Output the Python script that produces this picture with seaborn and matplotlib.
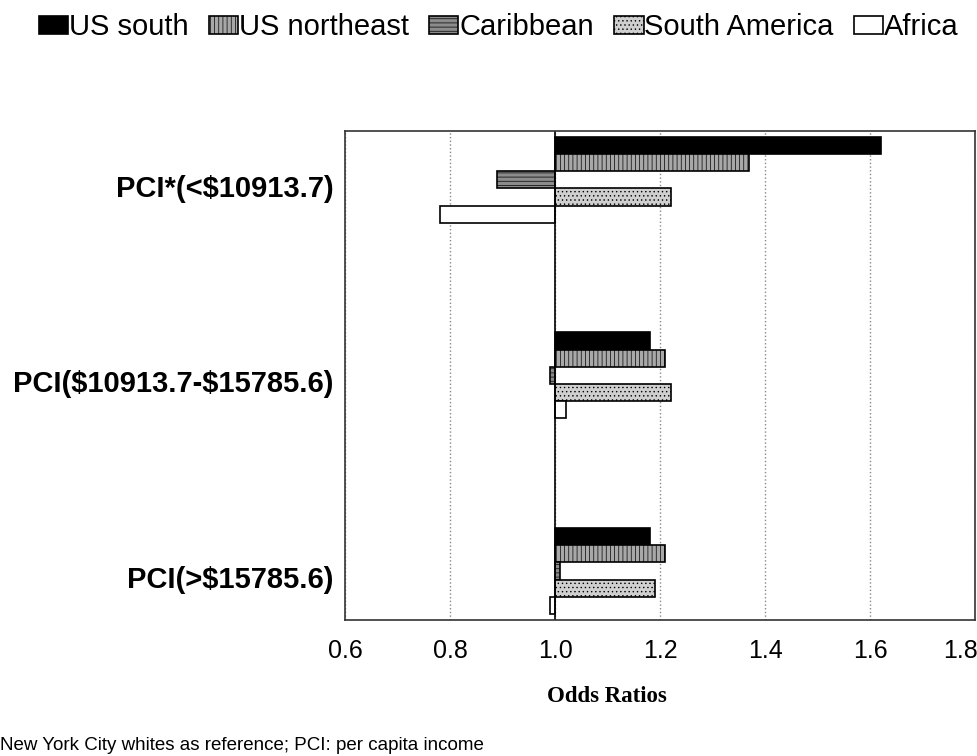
import pandas as pd
import matplotlib.pyplot as plt
import matplotlib.transforms as mtransforms
import seaborn as sns
from matplotlib.ticker import FuncFormatter, FixedLocator

# Odds ratios (reference = 1.0)
groups = ["PCI*(<$10913.7)", "PCI($10913.7-$15785.6)", "PCI(>$15785.6)"]
regions = ["US south", "US northeast", "Caribbean", "South America", "Africa"]
us_south = [1.62, 1.18, 1.18]
us_northeast = [1.37, 1.21, 1.21]
caribbean = [0.89, 0.99, 1.01]
south_america = [1.22, 1.22, 1.19]
africa = [0.78, 1.02, 0.99]
xticks = [0.6, 0.8, 1.0, 1.2, 1.4, 1.6, 1.8]

base = 1.0

rows = []
for reg, vals in zip(regions, [us_south, us_northeast, caribbean, south_america, africa]):
    for g, v in zip(groups, vals):
        rows.append({"group": g, "region": reg, "odds": v})
df = pd.DataFrame(rows)
df["shift"] = df["odds"] - base  # bars start at OR = 1

sns.set_style("white")
plt.rcParams["font.family"] = ["Liberation Sans", "DejaVu Sans"]
plt.rcParams["hatch.linewidth"] = 0.5
plt.rcParams.update({"text.color": "black", "axes.labelcolor": "black",
                     "xtick.color": "black", "ytick.color": "black"})

fig = plt.figure(figsize=(9.78, 7.56), dpi=100)
ax = fig.add_axes([0.353, 0.180, 0.644, 0.647])

sns.barplot(data=df, x="shift", y="group", hue="region", order=groups,
            hue_order=regions, orient="h", width=0.44, ax=ax,
            edgecolor="black", linewidth=1.2, legend=False)

styles = {
    "US south": ("black", ""),
    "US northeast": ("#a8a8a8", "||||"),
    "Caribbean": ("#8c8c8c", "----"),
    "South America": ("#cfcfcf", "...."),
    "Africa": ("white", ""),
}
for reg, cont in zip(regions, ax.containers):
    fc, h = styles[reg]
    for p in cont:
        p.set_facecolor(fc)
        p.set_hatch(h)
        p.set_edgecolor("black")

ax.set_xlim(xticks[0] - base, xticks[-1] - base)
ax.set_ylim(2.25, -0.25)
ax.xaxis.set_major_locator(FixedLocator([t - base for t in xticks]))
ax.xaxis.set_major_formatter(FuncFormatter(lambda v, p: f"{v + base:.1f}"))
ax.xaxis.grid(True, linestyle=":", color="#888888", linewidth=1)
ax.set_axisbelow(True)
ax.axvline(0, color="black", linewidth=1.2, zorder=1)

ax.set_yticks(range(len(groups)))
ax.set_yticklabels([g.replace("$", r"\$") for g in groups],
                   fontsize=21, fontweight="bold")
ax.tick_params(axis="y", length=0, pad=8.5)
ax.tick_params(axis="x", length=0, pad=14, labelsize=18)
shift_down = mtransforms.ScaledTranslation(0, -0.06, fig.dpi_scale_trans)
for lab in ax.get_yticklabels():
    lab.set_transform(lab.get_transform() + shift_down)
# keep the last x label inside the figure
last = ax.xaxis.get_major_ticks()[-1].label1
last.set_horizontalalignment("right")
last.set_transform(last.get_transform() +
                   mtransforms.ScaledTranslation(0.03, 0, fig.dpi_scale_trans))

ax.set_ylabel("")
ax.set_xlabel("Odds Ratios", fontsize=16.5, fontweight="bold",
              family=["Liberation Serif", "DejaVu Serif"])
ax.xaxis.set_label_coords(0.416, -0.135)
for s in ax.spines.values():
    s.set_color("#333333")
    s.set_linewidth(1.2)

fig.legend(handles=ax.containers, labels=regions, loc="center",
           bbox_to_anchor=(0.510, 0.964), ncol=5, frameon=False,
           fontsize=21, handlelength=1.0, handleheight=0.55,
           handletextpad=0.03, columnspacing=0.7)

fig.text(0.0, 0.002, "New York City whites as reference; PCI: per capita income",
         fontsize=13.5, ha="left", va="bottom")

fig.savefig("out.png", dpi=100)
